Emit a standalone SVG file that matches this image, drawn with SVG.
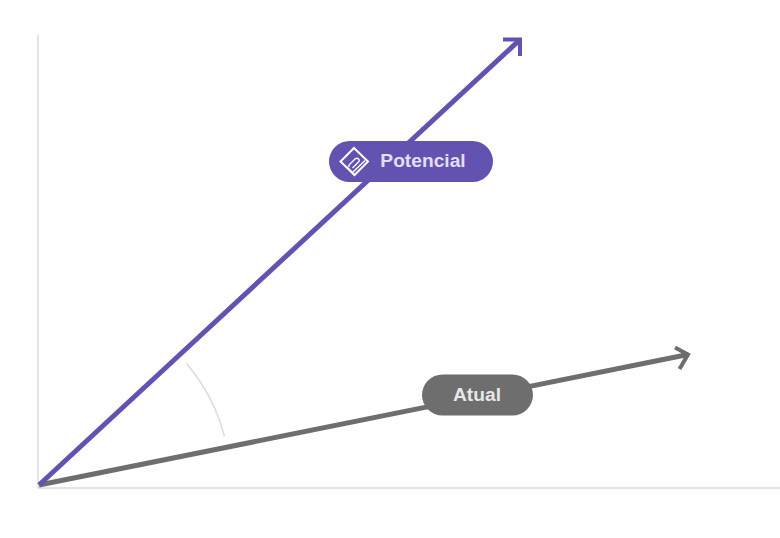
<svg xmlns="http://www.w3.org/2000/svg" width="780" height="538" viewBox="0 0 780 538">
<style>
.axis{fill:none;stroke:#dcdcdc;stroke-width:1.5}
.v{fill:none;stroke-width:5}
.p{stroke:#6352b0}
.g{stroke:#6e6e6e}
.h{fill:none;stroke-width:4}
.lbl{font-family:"Liberation Sans",Arial,sans-serif;font-weight:700;font-size:19.200px;text-anchor:middle}
.ic{fill:none;stroke:#fff;stroke-width:2}
.ic2{fill:none;stroke:#fff;stroke-width:1.300}
</style>
<rect width="780" height="538" fill="#fff"/>
<g id="connectors">
<path class="axis" d="M38 35V488H780"/>
<path d="M186.500 363.500Q214 396 224.500 436.500" fill="none" stroke="#dcdcdc" stroke-width="1.500"/>
<path class="v g" d="M39 485L688 354.500"/>
<path class="h g" d="M675 347.500L688 354.500L679.500 369"/>
<path class="v p" d="M39 485L518.500 41"/>
<path class="h p" d="M503 39.500H520V56"/>
</g>
<g id="potencial">
<rect x="329" y="141" width="164" height="41" rx="20.500" fill="#6352b0"/>
<path class="ic" d="M354 148L368 161.500L354.500 175L340.500 161.500Z"/>
<path class="ic2" d="M347 167L352.500 172.500L365 160.500M349 167V165L355 159Q357 157.500 358.500 159Q360 160.500 358.500 162L352.500 168"/>
<text class="lbl" x="423" y="167" fill="#e4dff5">Potencial</text>
</g>
<g id="atual">
<rect x="422" y="374.500" width="111" height="41" rx="20.500" fill="#6e6e6e"/>
<text class="lbl" x="477" y="401" fill="#e8e8e8">Atual</text>
</g>
</svg>
